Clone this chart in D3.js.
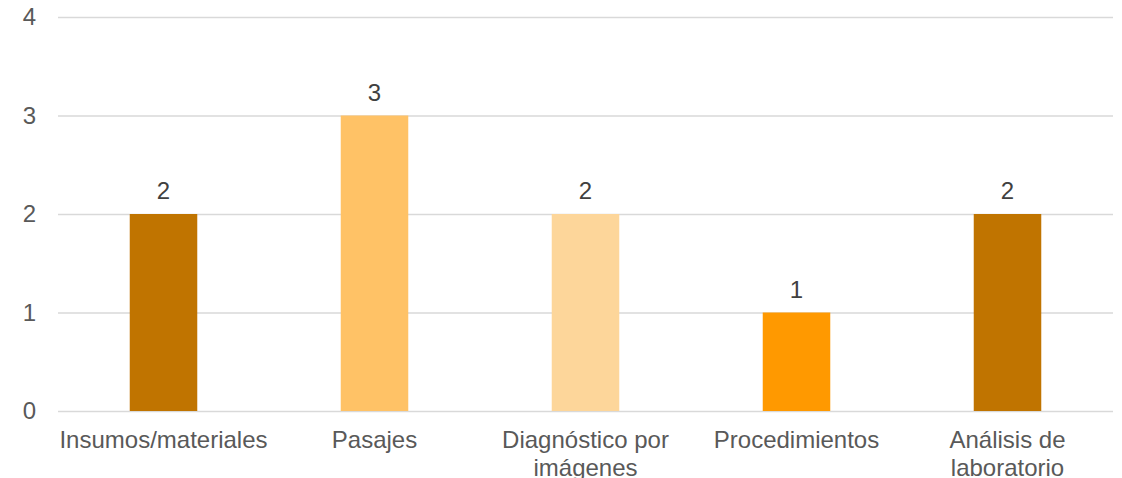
<!DOCTYPE html>
<html>
<head>
<meta charset="utf-8">
<script src="https://cdn.jsdelivr.net/npm/d3@7"></script>
<style>
  body { margin: 0; background: #fff; }
  svg { font-family: "Liberation Sans", Arial, sans-serif; }
</style>
</head>
<body>
<script>
// chart data
var categories = ['Insumos/materiales', 'Pasajes', 'Diagnóstico por imágenes', 'Procedimientos', 'Análisis de laboratorio']
var values = [2, 3, 2, 1, 2]
var barColors = ['#C07400', '#FFC266', '#FDD69A', '#FF9900', '#C07400']
var yTicks = [0, 1, 2, 3, 4]

var width = 1122
var height = 478
var margin = {left: 58, right: 9, top: 17, bottom: 67}

var svg = d3.select('body').append('svg').attr('width', width).attr('height', height)

var x = d3.scaleBand()
    .domain(categories)
    .range([margin.left, width - margin.right])
    .paddingInner(0.68)
    .paddingOuter(0.34)

var y = d3.scaleLinear()
    .domain([0, 4])
    .range([height - margin.bottom, margin.top])

// gridlines + y labels
var yAxis = d3.axisLeft(y)
    .tickValues(yTicks)
    .tickSize(-(width - margin.left - margin.right))
    .tickPadding(22)
    .tickFormat(d3.format('d'))

var yg = svg.append('g')
    .attr('transform', `translate(${margin.left},0)`)
    .call(yAxis)
yg.select('.domain').remove()
yg.selectAll('.tick line').attr('stroke', '#d9d9d9').attr('stroke-width', 1.5)
yg.selectAll('.tick text').attr('fill', '#595959').attr('font-size', 24)

// bars
svg.append('g').selectAll('rect')
    .data(values)
    .join('rect')
    .attr('x', (d, i) => x(categories[i]))
    .attr('y', d => y(d))
    .attr('width', x.bandwidth())
    .attr('height', d => y(0) - y(d))
    .attr('fill', (d, i) => barColors[i])

// value labels
svg.append('g').selectAll('text')
    .data(values)
    .join('text')
    .attr('x', (d, i) => x(categories[i]) + x.bandwidth() / 2)
    .attr('y', d => y(d) - 15)
    .attr('text-anchor', 'middle')
    .attr('font-size', 24)
    .attr('fill', '#404040')
    .text(d => d)

// category labels, wrapped to the category slot
var step = x.step()
var xl = svg.append('g')
    .attr('font-size', 24)
    .attr('fill', '#595959')
    .attr('text-anchor', 'middle')

categories.forEach(function(c) {
    var cx = x(c) + x.bandwidth() / 2
    var t = xl.append('text').attr('x', cx).attr('y', y(0) + 37)
    var words = c.split(' ')
    var lines = []
    var line = []
    var probe = xl.append('text').attr('visibility', 'hidden')
    words.forEach(function(w) {
        var test = line.concat([w]).join(' ')
        probe.text(test)
        if (line.length && probe.node().getComputedTextLength() > step - 4) {
            lines.push(line.join(' '))
            line = [w]
        } else {
            line.push(w)
        }
    })
    lines.push(line.join(' '))
    probe.remove()
    lines.forEach(function(l, i) {
        t.append('tspan').attr('x', cx).attr('dy', i ? 27.5 : 0).text(l)
    })
})
</script>
</body>
</html>
